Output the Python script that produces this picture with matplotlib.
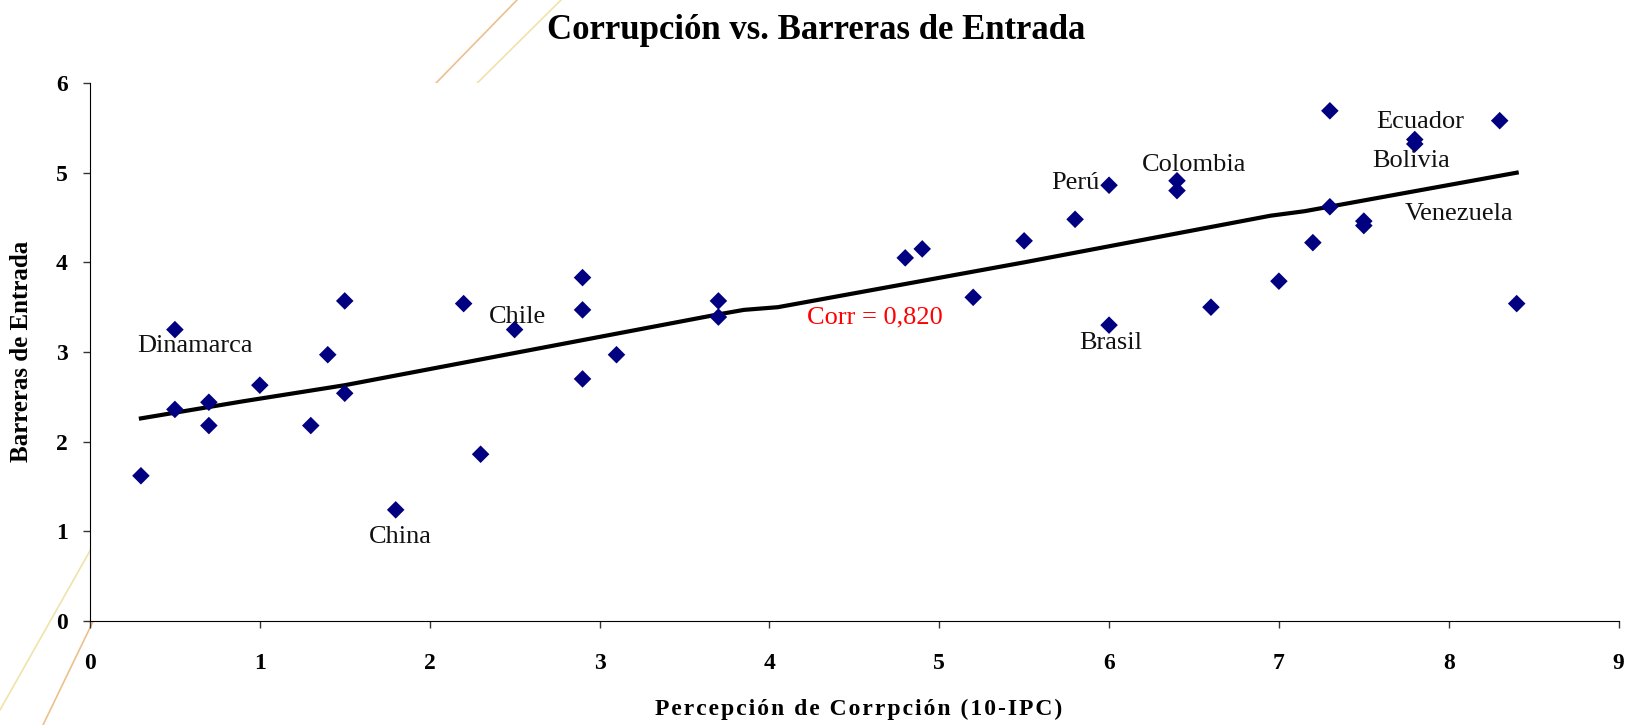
import matplotlib
matplotlib.use('Agg')
import matplotlib.pyplot as plt
from matplotlib.lines import Line2D

# Percepcion de corrupcion (10-IPC) vs barreras de entrada
corrupcion = [0.3, 0.5, 0.5, 0.7, 0.7, 1.0, 1.3, 1.4, 1.5, 1.5,
              1.8, 2.2, 2.3, 2.5, 2.9, 2.9, 2.9, 3.1, 3.7, 3.7,
              4.8, 4.9, 5.2, 5.5, 5.8, 6.0, 6.0, 6.4, 6.4, 6.6,
              7.0, 7.2, 7.3, 7.3, 7.5, 7.5, 7.8, 7.8, 8.3, 8.4]
barreras = [1.62, 3.25, 2.36, 2.44, 2.18, 2.63, 2.18, 2.97, 3.57, 2.54,
            1.24, 3.54, 1.86, 3.25, 3.83, 3.47, 2.70, 2.97, 3.57, 3.39,
            4.05, 4.15, 3.61, 4.24, 4.48, 4.86, 3.30, 4.91, 4.80, 3.50,
            3.79, 4.22, 5.69, 4.62, 4.46, 4.41, 5.37, 5.32, 5.58, 3.54]

# linea ajustada
ajuste_x = [0.3, 0.9, 1.5, 3.7, 3.85, 4.05, 5.5, 6.95, 7.15, 8.4]
ajuste_y = [2.26, 2.45, 2.63, 3.42, 3.47, 3.50, 4.00, 4.52, 4.57, 5.00]

paises = ['Dinamarca', 'Chile', 'China', 'Perú', 'Colombia',
          'Ecuador', 'Bolivia', 'Venezuela', 'Brasil']
pais_x = [0.62, 2.52, 1.83, 5.80, 6.50, 7.83, 7.78, 8.06, 6.01]
pais_y = [3.07, 3.39, 0.94, 4.88, 5.09, 5.57, 5.13, 4.54, 3.10]

serif = ['Liberation Serif', 'DejaVu Serif']


def espaciado(texto):
    # a little letter spacing, like the original
    return '\u200a'.join(texto)


fig = plt.figure(figsize=(16.3, 7.25), dpi=100)
ax = fig.add_axes([0.0552, 0.1434, 0.9378, 0.7421])
ax.set_facecolor('white')

# decorative lines behind the plot area
fig.add_artist(Line2D([517/1630, 400/1630], [1, 1-120/725], color='#e8b070',
                      lw=1.2, alpha=0.8, zorder=-1))
fig.add_artist(Line2D([561/1630, 440/1630], [1, 1-120/725], color='#eee0a0',
                      lw=1.2, alpha=0.9, zorder=-1))
fig.add_artist(Line2D([130/1630, 43/1630], [1-545/725, 0], color='#e8b070',
                      lw=1.2, alpha=0.8, zorder=-1))
fig.add_artist(Line2D([130/1630, 0], [1-480/725, 1-710/725], color='#eee0a0',
                      lw=1.2, alpha=0.9, zorder=-1))

ax.plot(ajuste_x, ajuste_y, color='black', lw=3, zorder=2)
ax.scatter(corrupcion, barreras, marker='D', s=80, color='#000080',
           edgecolors='none', zorder=3)

for nombre, x, y in zip(paises, pais_x, pais_y):
    ax.text(x, y, nombre, ha='center', va='center', fontsize=19,
            family=serif, color='#111111')
ax.text(4.62, 3.38, 'Corr = 0,820', ha='center', va='center', fontsize=19,
        family=serif, color='red')

ax.set_xlim(0, 9)
ax.set_ylim(0, 6)
ax.set_xticks(range(10))
ax.set_yticks(range(7))
for lbl in ax.get_xticklabels() + ax.get_yticklabels():
    lbl.set_family(serif)
    lbl.set_fontweight('bold')
    lbl.set_fontsize(17)
ax.tick_params(direction='out', length=5, width=1, color='#333333')
ax.tick_params(axis='x', pad=18)
ax.tick_params(axis='y', pad=11)
ax.spines['top'].set_visible(False)
ax.spines['right'].set_visible(False)

ax.set_xlabel(espaciado('Percepción de Corrpción (10-IPC)'), family=serif,
              fontweight='bold', fontsize=17, va='center')
ax.xaxis.set_label_coords(0.503, -0.165)
ax.set_ylabel('Barreras de Entrada', family=serif, fontweight='bold',
              fontsize=18, va='center')
ax.yaxis.set_label_coords(-0.045, 0.502)
fig.text(0.501, 0.958, 'Corrupción vs. Barreras de Entrada', ha='center',
         va='center', family=serif, fontweight='bold', fontsize=25)

fig.savefig('out.png', dpi=100, facecolor='white')
